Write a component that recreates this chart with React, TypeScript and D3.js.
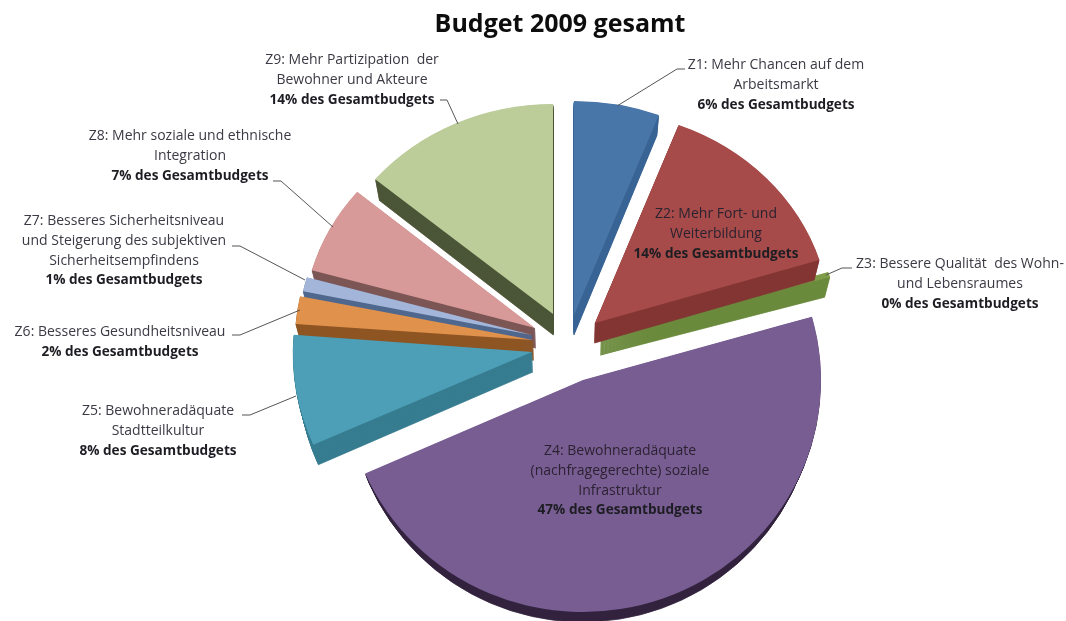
import React from "react";
import * as d3 from "d3";

const W = 1066, H = 621;
const title = "Budget 2009 gesamt";
const categories = ["Z1", "Z2", "Z3", "Z4", "Z5", "Z6", "Z7", "Z8", "Z9"];
const shares = [5.8, 14.4, 0.4, 47.8, 7.8, 2.1, 1.1, 6.7, 13.9];
const labelLines = [
  ["Z1: Mehr Chancen auf dem", "Arbeitsmarkt"],
  ["Z2: Mehr Fort- und", "Weiterbildung"],
  ["Z3: Bessere Qualität  des Wohn-", "und Lebensraumes"],
  ["Z4: Bewohneradäquate", "(nachfragegerechte) soziale", "Infrastruktur"],
  ["Z5: Bewohneradäquate", "Stadtteilkultur"],
  ["Z6: Besseres Gesundheitsniveau"],
  ["Z7: Besseres Sicherheitsniveau", "und Steigerung des subjektiven", "Sicherheitsempfindens"],
  ["Z8: Mehr soziale und ethnische", "Integration"],
  ["Z9: Mehr Partizipation  der", "Bewohner und Akteure"],
];
const percentLabels = ["6%", "14%", "0%", "47%", "8%", "2%", "1%", "7%", "14%"];
const topColors = ["#4A76A8", "#A64B48", "#7F9C48", "#785D93", "#4D9FB7", "#E0924E", "#A3B6DA", "#D79A99", "#BCCD9A"];
const sideColors = ["#3A6595", "#833634", "#6B8A3C", "#33253F", "#377C90", "#8E5524", "#51678E", "#7C5555", "#4C5537"];

// Layout of the exploded perspective pie
const explodeX = [574, 595, 601, 583, 532, 533, 532, 535, 553];
const explodeY = [315, 323, 335, 380, 352, 340, 335, 328, 314];
const radiusX = [238, 235, 238, 238, 239, 238, 234, 232, 232];
const radiusY = [214, 212, 212, 232, 230, 212, 212, 212, 210];
const depths = [20, 20, 20, 10, 20, 20, 20, 20, 21];
const paintOrder = [0, 8, 7, 6, 5, 4, 2, 1, 3];
const vanishX = 570;
const shrink = 0.98;

const labelCx = [776, 716, 960, 620, 158, 120, 124, 190, 352];
const labelTop = [64, 213, 263, 450, 410, 331, 220, 135, 59];
const leaders: ([number, number][] | null)[] = [
  [[617, 106], [677, 69], [685, 69]],
  null,
  [[826, 275], [842, 268], [852, 268]],
  null,
  [[296, 396], [250, 415], [242, 415]],
  [[300, 310], [240, 335], [232, 335]],
  [[305, 280], [240, 246], [232, 246]],
  [[333, 227], [281, 181], [273, 181]],
  [[458, 124], [447, 100], [440, 100]],
];

const pie = d3.pie<number>().sort(null).value((d) => d);
const arcs = pie(shares);
const arcGen = d3.arc<d3.PieArcDatum<number>>().innerRadius(0).outerRadius(100);
const line = d3.line();
const font = "'Open Sans', 'Noto Sans', sans-serif";

export default function App() {
  return (
    <svg width={W} height={H} style={{ position: "absolute", left: 0, top: 0, background: "#fff" }}>
      <defs>
        <filter id="soft" x="0" y="0" width="100%" height="100%">
          <feGaussianBlur stdDeviation={0.35} />
        </filter>
      </defs>
      <g filter="url(#soft)">
        <text x={560} y={32} textAnchor="middle" fontFamily={font} fontWeight={700} fontSize={25} fill="#111">{title}</text>
        {paintOrder.map((i) => {
          const d = arcGen(arcs[i]) as string;
          const sx = radiusX[i] / 100, sy = radiusY[i] / 100;
          return (
            <g key={categories[i]}>
              {d3.range(depths[i], 0, -1).map((k) => {
                const s = 1 - (1 - shrink) * (k / depths[i]);
                const ax = vanishX + (explodeX[i] - vanishX) * s;
                return (
                  <path key={k} d={d} fill={sideColors[i]} stroke={sideColors[i]} strokeWidth={0.8}
                    vectorEffect="non-scaling-stroke"
                    transform={`translate(${ax},${explodeY[i] + k}) scale(${sx * s},${sy})`} />
                );
              })}
              <path d={d} fill={topColors[i]} transform={`translate(${explodeX[i]},${explodeY[i]}) scale(${sx},${sy})`} />
            </g>
          );
        })}
        {leaders.map((pts, i) => pts && (
          <path key={i} d={line(pts) as string} fill="none" stroke="#555" strokeWidth={1} />
        ))}
        {labelLines.map((lines, i) => (
          <g key={i} fontFamily={font} textAnchor="middle">
            {lines.map((t, j) => (
              <text key={j} x={labelCx[i]} y={labelTop[i] + 5 + j * 19.8} fontSize={14} fill={i === 1 || i === 3 ? "#2c2230" : "#3a3a44"} xmlSpace="preserve">{t}</text>
            ))}
            <text x={labelCx[i]} y={labelTop[i] + 5 + lines.length * 19.8} fontSize={13.6} fontWeight={700} fill="#1e1e24">
              {percentLabels[i]} des Gesamtbudgets
            </text>
          </g>
        ))}
      </g>
    </svg>
  );
}
